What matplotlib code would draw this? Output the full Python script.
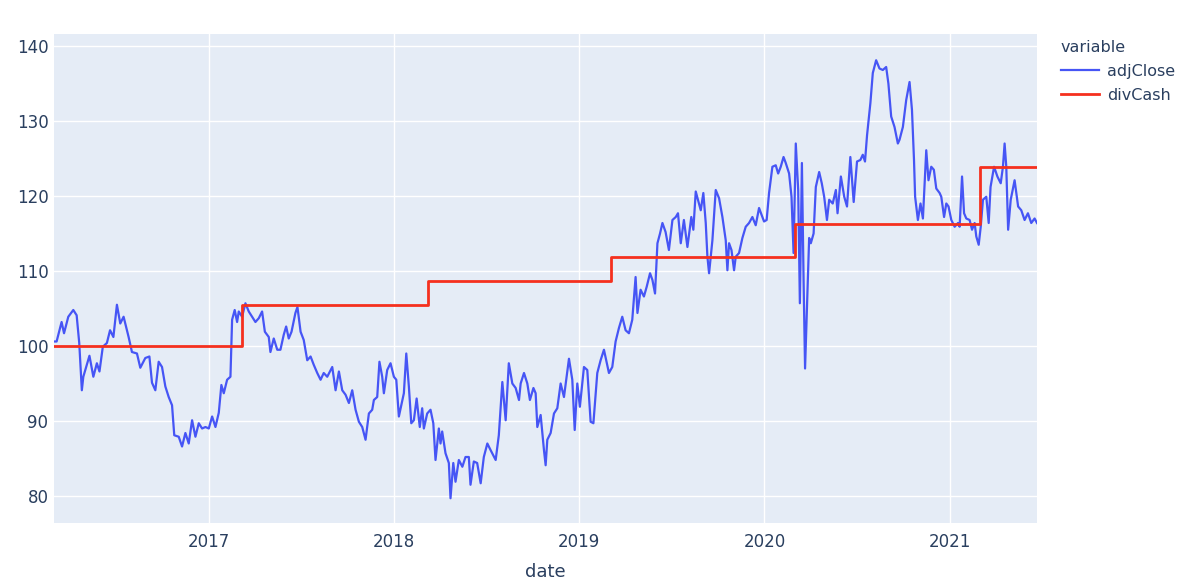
import matplotlib
matplotlib.use("Agg")
import matplotlib.pyplot as plt
import matplotlib.dates as mdates
import pandas as pd

# adjClose, dates as decimal years
adj_year = [
    2016.164, 2016.178, 2016.205, 2016.218, 2016.241, 2016.268, 2016.286, 2016.300, 2016.314, 2016.322,
    2016.355, 2016.376, 2016.395, 2016.409, 2016.427, 2016.449, 2016.466, 2016.484, 2016.503, 2016.521,
    2016.539, 2016.566, 2016.584, 2016.611, 2016.629, 2016.656, 2016.678, 2016.692, 2016.710, 2016.728,
    2016.746, 2016.764, 2016.782, 2016.800, 2016.812, 2016.836, 2016.854, 2016.872, 2016.890, 2016.908,
    2016.926, 2016.944, 2016.962, 2016.980, 2016.998, 2017.016, 2017.034, 2017.052,
    2017.066, 2017.079, 2017.097, 2017.115, 2017.124, 2017.138, 2017.151, 2017.160, 2017.178, 2017.196,
    2017.214, 2017.232, 2017.250, 2017.268, 2017.286, 2017.301, 2017.322, 2017.331, 2017.349, 2017.368,
    2017.385, 2017.403, 2017.416, 2017.430, 2017.445, 2017.466, 2017.477, 2017.494, 2017.511, 2017.530,
    2017.548, 2017.565, 2017.584, 2017.602, 2017.619, 2017.638, 2017.665, 2017.683, 2017.701, 2017.719,
    2017.737, 2017.755, 2017.773, 2017.791, 2017.809, 2017.827, 2017.845, 2017.863, 2017.881, 2017.890,
    2017.908, 2017.920, 2017.935, 2017.944, 2017.962, 2017.980, 2017.998, 2018.011, 2018.025,
    2018.052, 2018.065, 2018.079, 2018.092, 2018.106, 2018.121, 2018.138, 2018.151, 2018.160, 2018.178,
    2018.196, 2018.211, 2018.223, 2018.241, 2018.250, 2018.259, 2018.277, 2018.295, 2018.304, 2018.319,
    2018.331, 2018.349, 2018.368, 2018.385, 2018.403, 2018.412, 2018.430, 2018.448, 2018.467, 2018.484,
    2018.503, 2018.521, 2018.548, 2018.565, 2018.584, 2018.602, 2018.619, 2018.638, 2018.656, 2018.674,
    2018.683, 2018.701, 2018.719, 2018.733, 2018.752, 2018.764, 2018.773, 2018.791, 2018.809, 2018.818,
    2018.827, 2018.845, 2018.863, 2018.881, 2018.899, 2018.917, 2018.944, 2018.962, 2018.975, 2018.989,
    2019.003,
    2019.025, 2019.043, 2019.061, 2019.076, 2019.097, 2019.115, 2019.133, 2019.160, 2019.178, 2019.196,
    2019.214, 2019.232, 2019.250, 2019.268, 2019.286, 2019.304, 2019.314, 2019.331, 2019.349, 2019.364,
    2019.382, 2019.395, 2019.409, 2019.422, 2019.436, 2019.449, 2019.466, 2019.484, 2019.503, 2019.521,
    2019.533, 2019.548, 2019.565, 2019.584, 2019.605, 2019.616, 2019.629, 2019.641, 2019.656, 2019.670,
    2019.683, 2019.692, 2019.701, 2019.719, 2019.737, 2019.755, 2019.773, 2019.791, 2019.800, 2019.809,
    2019.822, 2019.836, 2019.845, 2019.863, 2019.881, 2019.899, 2019.917, 2019.935, 2019.953, 2019.971,
    2019.998, 2020.012, 2020.025, 2020.043, 2020.061, 2020.074, 2020.088, 2020.103, 2020.115, 2020.133,
    2020.146, 2020.157, 2020.169, 2020.182, 2020.191, 2020.202, 2020.211, 2020.219, 2020.232, 2020.241,
    2020.250, 2020.265, 2020.277, 2020.295, 2020.309, 2020.322, 2020.337, 2020.349, 2020.368, 2020.385,
    2020.394, 2020.412, 2020.430, 2020.445, 2020.463, 2020.481, 2020.499, 2020.517, 2020.530, 2020.542,
    2020.553, 2020.571, 2020.584, 2020.602, 2020.620, 2020.638, 2020.656, 2020.668, 2020.683, 2020.701,
    2020.719,
    2020.728, 2020.746, 2020.764, 2020.782, 2020.795, 2020.806, 2020.812, 2020.827, 2020.841, 2020.854,
    2020.872, 2020.884, 2020.899, 2020.913, 2020.926, 2020.944, 2020.953, 2020.968, 2020.980, 2020.992,
    2021.007, 2021.025, 2021.043, 2021.052, 2021.065, 2021.076, 2021.088, 2021.106, 2021.119, 2021.133,
    2021.142, 2021.155, 2021.166, 2021.178, 2021.196, 2021.209, 2021.219, 2021.238, 2021.256, 2021.274,
    2021.286, 2021.295, 2021.304, 2021.314, 2021.328, 2021.349, 2021.368, 2021.385, 2021.403, 2021.421,
    2021.439, 2021.457, 2021.470,
]
adj_close = [
    100.6, 100.6, 103.2, 101.7, 103.9, 104.8, 104.1, 100.4, 94.1, 95.9,
    98.7, 95.9, 97.7, 96.6, 99.9, 100.4, 102.1, 101.2, 105.5, 103.0,
    103.9, 101.2, 99.2, 99.0, 97.1, 98.4, 98.6, 95.1, 94.1, 97.9,
    97.2, 94.6, 93.2, 92.1, 88.1, 87.9, 86.6, 88.4, 87.0, 90.1,
    87.9, 89.7, 89.0, 89.2, 89.0, 90.6, 89.2, 91.1,
    94.8, 93.7, 95.5, 95.9, 103.5, 104.8, 103.2, 104.6, 103.9, 105.7,
    104.6, 103.9, 103.2, 103.7, 104.6, 101.9, 101.2, 99.2, 101.0, 99.5,
    99.5, 101.5, 102.6, 101.0, 101.9, 104.4, 105.2, 101.9, 100.8, 98.1,
    98.6, 97.5, 96.4, 95.5, 96.4, 95.9, 97.2, 94.1, 96.6, 94.1,
    93.5, 92.4, 94.1, 91.5, 89.9, 89.2, 87.5, 91.0, 91.5, 92.8,
    93.2, 97.9, 95.9, 93.7, 96.8, 97.7, 95.9, 95.5, 90.6,
    93.7, 99.0, 94.6, 89.7, 90.1, 93.0, 89.2, 91.7, 89.0, 91.0,
    91.5, 89.7, 84.8, 89.0, 87.0, 88.6, 85.7, 84.4, 79.7, 84.4,
    81.9, 84.8, 83.9, 85.2, 85.2, 81.5, 84.6, 84.4, 81.7, 85.2,
    87.0, 86.1, 84.8, 88.1, 95.2, 90.1, 97.7, 95.0, 94.4, 92.8,
    95.0, 96.4, 95.0, 92.8, 94.4, 93.7, 89.2, 90.8, 86.1, 84.1,
    87.5, 88.4, 91.0, 91.7, 95.0, 93.2, 98.3, 95.5, 88.8, 95.0,
    91.9,
    97.2, 96.8, 89.9, 89.7, 96.4, 98.1, 99.5, 96.4, 97.2, 100.6,
    102.4, 103.9, 102.1, 101.7, 103.5, 109.2, 104.4, 107.5, 106.6, 107.9,
    109.7, 108.8, 107.0, 113.7, 115.0, 116.4, 115.2, 112.8, 116.8, 117.2,
    117.7, 113.7, 116.8, 113.2, 117.2, 115.5, 120.6, 119.5, 118.1, 120.4,
    116.4, 111.9, 109.7, 114.1, 120.8, 119.7, 117.2, 114.1, 110.1, 113.7,
    112.8, 110.1, 111.9, 112.4, 114.4, 115.9, 116.4, 117.2, 116.1, 118.4,
    116.6, 116.8, 120.4, 123.9, 124.1, 123.0, 123.9, 125.2, 124.4, 123.0,
    119.9, 112.4, 127.0, 120.8, 105.7, 124.4, 108.8, 97.0, 107.5, 114.4,
    113.7, 115.0, 121.2, 123.2, 121.7, 119.9, 116.8, 119.5, 119.0, 120.8,
    117.7, 122.6, 119.9, 118.6, 125.2, 119.2, 124.6, 124.8, 125.5, 124.6,
    128.1, 132.4, 136.4, 138.1, 137.0, 136.8, 137.2, 135.0, 130.6, 129.2,
    127.0,
    127.5, 129.2, 132.8, 135.2, 131.5, 124.8, 119.9, 116.8, 119.0, 117.0,
    126.1, 122.1, 123.9, 123.5, 121.0, 120.4, 119.9, 117.2, 119.0, 118.6,
    116.8, 115.9, 116.4, 115.9, 122.6, 117.7, 117.0, 116.8, 115.5, 116.4,
    114.6, 113.5, 115.9, 119.5, 119.9, 116.4, 121.2, 123.9, 122.6, 121.7,
    123.9, 127.0, 123.9, 115.5, 119.5, 122.1, 118.6, 118.1, 116.8, 117.7,
    116.4, 117.0, 116.4,
]

# divCash step levels
div_year = [2016.164, 2017.180, 2018.180, 2019.173, 2020.166, 2021.160, 2021.470]
div_cash = [100.0, 105.5, 108.7, 111.9, 116.3, 123.9, 123.9]

y_ticks = [80, 90, 100, 110, 120, 130, 140]
x_ticks = ["2017", "2018", "2019", "2020", "2021"]


def to_date(yr):
    start = pd.Timestamp(year=int(yr), month=1, day=1)
    end = pd.Timestamp(year=int(yr) + 1, month=1, day=1)
    return start + (end - start) * (yr - int(yr))


adj_dates = [to_date(v) for v in adj_year]
div_dates = [to_date(v) for v in div_year]

txt = "#2a3f5f"
plt.rcParams["font.family"] = ["DejaVu Sans"]

fig = plt.figure(figsize=(12, 5.82), dpi=100)
ax = fig.add_axes([54 / 1200, 1 - 523 / 582, (1037 - 54) / 1200, (523 - 34) / 582])
ax.set_facecolor("#e5ecf6")
for s in ax.spines.values():
    s.set_visible(False)

ax.plot(adj_dates, adj_close, color="#4655f5", lw=1.6, label="adjClose", zorder=3)
ax.plot(div_dates, div_cash, color="#f5301e", lw=2.0, drawstyle="steps-post", label="divCash", zorder=4)

ax.set_xlim(adj_dates[0], adj_dates[-1])
ax.set_ylim(76.4, 141.6)
ax.set_yticks(y_ticks)
ax.set_xticks([pd.Timestamp(t) for t in x_ticks])
ax.xaxis.set_major_formatter(mdates.DateFormatter("%Y"))
ax.grid(True, color="white", lw=1.0, zorder=0)
ax.set_axisbelow(True)
ax.tick_params(axis="both", length=0, labelsize=12, labelcolor=txt)
ax.tick_params(axis="x", pad=7)
ax.tick_params(axis="y", pad=4)
ax.set_xlabel("date", fontsize=13, color=txt, labelpad=9)

fig.legend(loc="upper left", bbox_to_anchor=(1053 / 1200, 1 - 32 / 582), frameon=False,
           title="variable", alignment="left", fontsize=11.5, title_fontsize=11.5,
           handlelength=2.4, handletextpad=0.5, labelspacing=0.55, borderpad=0,
           labelcolor=txt)
leg = fig.legends[0]
leg.get_title().set_color(txt)

fig.savefig("out.png", dpi=100)
